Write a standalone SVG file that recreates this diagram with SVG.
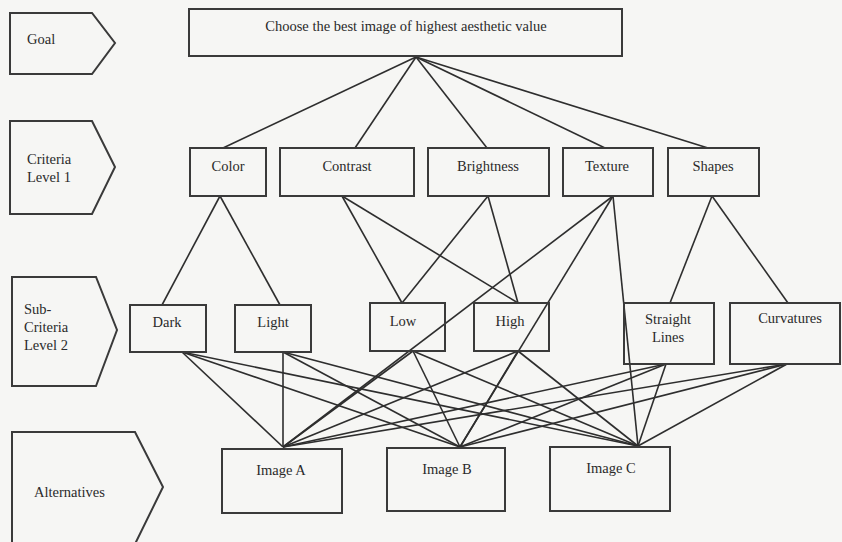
<svg xmlns="http://www.w3.org/2000/svg" width="842" height="542" viewBox="0 0 842 542">
<style>
.bg{fill:#f6f6f4}
.box{fill:none;stroke:#3a3a3a;stroke-width:2}
.lvl{fill:#f6f6f4;stroke:#3a3a3a;stroke-width:2}
.t{font-family:"Liberation Serif","Times New Roman",serif;font-size:14.5px;fill:#2a2a2a}
.c{text-anchor:middle}
#connectors line{stroke:#2e2e2e;stroke-width:1.6;fill:none}
</style>
<rect class="bg" x="0" y="0" width="842" height="542"/>

<g id="level-goal"><polygon class="lvl" points="10,13 92,13 115,43 92,74 10,74"/><text class="t" x="27" y="44">Goal</text></g>
<g id="level-criteria1"><polygon class="lvl" points="10,121 92,121 115,167 92,214 10,214"/><text class="t" x="27" y="164">Criteria</text><text class="t" x="27" y="182">Level 1</text></g>
<g id="level-sub"><polygon class="lvl" points="12,277 96,277 117,330 96,386 12,386"/><text class="t" x="24" y="314">Sub-</text><text class="t" x="24" y="332">Criteria</text><text class="t" x="24" y="350">Level 2</text></g>
<g id="level-alt"><polygon class="lvl" points="12,432 135,432 163,487 135,544 12,544"/><text class="t" x="34" y="497">Alternatives</text></g>

<g id="connectors">
<line x1="416" y1="57" x2="223" y2="148"/>
<line x1="416" y1="57" x2="355" y2="148"/>
<line x1="416" y1="57" x2="487" y2="148"/>
<line x1="416" y1="57" x2="605" y2="148"/>
<line x1="416" y1="57" x2="708" y2="148"/>

<line x1="220" y1="196" x2="162" y2="305"/>
<line x1="220" y1="196" x2="280" y2="305"/>
<line x1="342" y1="196" x2="402" y2="303"/>
<line x1="342" y1="196" x2="518" y2="303"/>
<line x1="488" y1="196" x2="402" y2="303"/>
<line x1="488" y1="196" x2="518" y2="303"/>
<line x1="712" y1="196" x2="670" y2="303"/>
<line x1="712" y1="196" x2="788" y2="303"/>

<line x1="613" y1="196" x2="283" y2="447"/>
<line x1="613" y1="196" x2="460" y2="447"/>
<line x1="613" y1="196" x2="638" y2="446"/>

<line x1="182" y1="352" x2="283" y2="447"/>
<line x1="182" y1="352" x2="460" y2="447"/>
<line x1="182" y1="352" x2="638" y2="446"/>
<line x1="283" y1="352" x2="283" y2="447"/>
<line x1="283" y1="352" x2="460" y2="447"/>
<line x1="283" y1="352" x2="638" y2="446"/>
<line x1="413" y1="351" x2="283" y2="447"/>
<line x1="413" y1="351" x2="460" y2="447"/>
<line x1="413" y1="351" x2="638" y2="446"/>
<line x1="518" y1="351" x2="283" y2="447"/>
<line x1="518" y1="351" x2="460" y2="447"/>
<line x1="518" y1="351" x2="638" y2="446"/>
<line x1="666" y1="364" x2="283" y2="447"/>
<line x1="666" y1="364" x2="460" y2="447"/>
<line x1="666" y1="364" x2="638" y2="446"/>
<line x1="787" y1="364" x2="283" y2="447"/>
<line x1="787" y1="364" x2="460" y2="447"/>
<line x1="787" y1="364" x2="638" y2="446"/>
</g>

<g id="goal"><rect class="box" x="189" y="9" width="433" height="47"/><text class="t c" x="406" y="31">Choose the best image of highest aesthetic value</text></g>

<g id="color"><rect class="box" x="190" y="148" width="76" height="48"/><text class="t c" x="228" y="171">Color</text></g>
<g id="contrast"><rect class="box" x="280" y="148" width="134" height="48"/><text class="t c" x="347" y="171">Contrast</text></g>
<g id="brightness"><rect class="box" x="428" y="148" width="121" height="48"/><text class="t c" x="488" y="171">Brightness</text></g>
<g id="texture"><rect class="box" x="563" y="148" width="90" height="48"/><text class="t c" x="607" y="171">Texture</text></g>
<g id="shapes"><rect class="box" x="668" y="148" width="91" height="48"/><text class="t c" x="713" y="171">Shapes</text></g>

<g id="dark"><rect class="box" x="130" y="305" width="76" height="47"/><text class="t c" x="167" y="327">Dark</text></g>
<g id="light"><rect class="box" x="235" y="305" width="76" height="47"/><text class="t c" x="273" y="327">Light</text></g>
<g id="low"><rect class="box" x="370" y="303" width="75" height="48"/><text class="t c" x="403" y="326">Low</text></g>
<g id="high"><rect class="box" x="474" y="303" width="75" height="48"/><text class="t c" x="510" y="326">High</text></g>
<g id="straight"><rect class="box" x="624" y="303" width="90" height="61"/><text class="t c" x="668" y="324">Straight</text><text class="t c" x="668" y="342">Lines</text></g>
<g id="curvatures"><rect class="box" x="730" y="303" width="110" height="61"/><text class="t c" x="790" y="323">Curvatures</text></g>

<g id="imageA"><rect class="box" x="222" y="449" width="120" height="64"/><text class="t c" x="281" y="475">Image A</text></g>
<g id="imageB"><rect class="box" x="387" y="448" width="118" height="63"/><text class="t c" x="447" y="474">Image B</text></g>
<g id="imageC"><rect class="box" x="550" y="447" width="120" height="64"/><text class="t c" x="611" y="473">Image C</text></g>
</svg>
